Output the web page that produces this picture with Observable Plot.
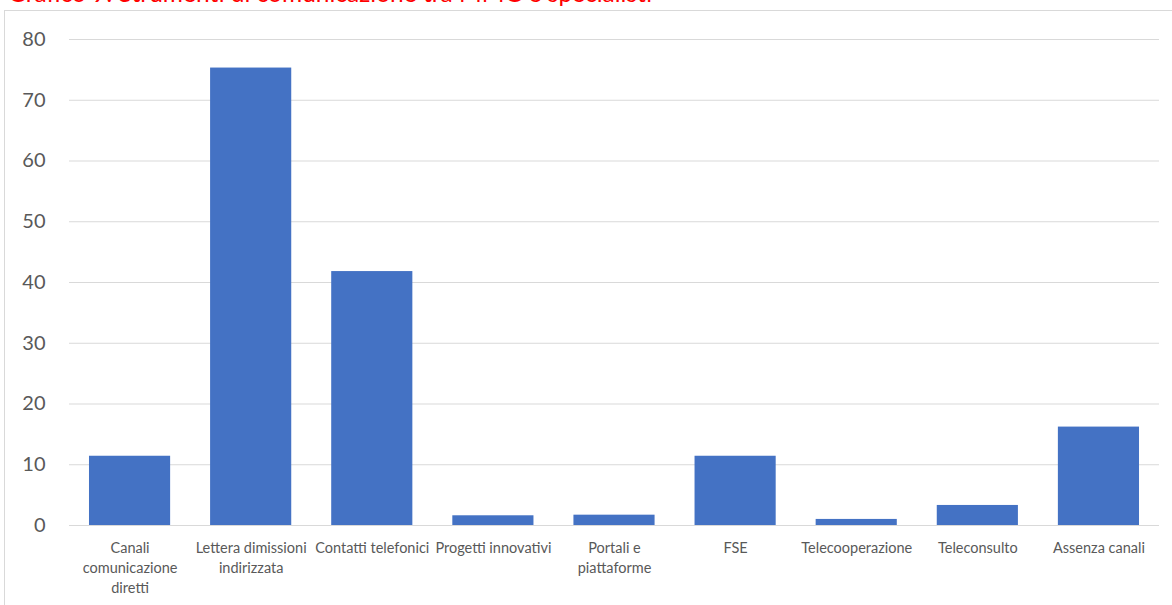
<!DOCTYPE html>
<html>
<head>
<meta charset="utf-8">
<script src="https://cdn.jsdelivr.net/npm/d3@7"></script>
<script src="https://cdn.jsdelivr.net/npm/@observablehq/plot@0.6"></script>
<style>
  html, body { margin: 0; padding: 0; background: #fff; overflow: hidden; }
  #wrap { position: relative; width: 1172px; height: 605px; overflow: hidden; }
  #title { position: absolute; left: 8px; top: -19px; font-family: Lato, "Open Sans", sans-serif; font-size: 24.5px; line-height: 24px; color: #ff0000; white-space: nowrap; }
  #frame { position: absolute; left: 4px; top: 10px; width: 1300px; height: 700px; border-left: 1px solid #d9d9d9; border-top: 1px solid #d9d9d9; }
  #chart { position: absolute; left: 0; top: 0; }
</style>
</head>
<body>
<div id="wrap">
  <div id="title">Grafico 9: Strumenti di comunicazione tra MMG e specialisti</div>
  <div id="frame"></div>
  <div id="chart"></div>
</div>
<script>
const categories = [
  "Canali comunicazione diretti",
  "Lettera dimissioni indirizzata",
  "Contatti telefonici",
  "Progetti innovativi",
  "Portali e piattaforme",
  "FSE",
  "Telecooperazione",
  "Teleconsulto",
  "Assenza canali"
];
const tickLabels = [
  "Canali\ncomunicazione\ndiretti",
  "Lettera dimissioni\nindirizzata",
  "Contatti telefonici",
  "Progetti innovativi",
  "Portali e\npiattaforme",
  "FSE",
  "Telecooperazione",
  "Teleconsulto",
  "Assenza canali"
];
const values = [11.4, 75.3, 41.8, 1.6, 1.7, 11.4, 1.0, 3.3, 16.2];
const yTicks = [0, 10, 20, 30, 40, 50, 60, 70, 80];

const data = categories.map((c, i) => ({cat: c, label: tickLabels[i], value: values[i]}));

const chart = Plot.plot({
  width: 1172,
  height: 605,
  marginLeft: 69,
  marginRight: 13,
  marginTop: 39,
  marginBottom: 80,
  style: {fontFamily: "Lato, 'Open Sans', sans-serif", background: "transparent"},
  x: {domain: categories, paddingInner: 0.33, paddingOuter: 0.165, round: false, axis: null},
  y: {domain: [0, 80], ticks: yTicks, axis: null},
  marks: [
    Plot.ruleY(yTicks, {stroke: "#d9d9d9", strokeWidth: 1, strokeOpacity: 1}),
    Plot.barY(data, {x: "cat", y: "value", fill: "#4472c4"}),
    Plot.axisY({ticks: yTicks, tickSize: 0, tickPadding: 24, fontSize: 20, fill: "#595959", label: null}),
    Plot.text(data, {x: "cat", text: "label", frameAnchor: "bottom", lineAnchor: "top", dy: 14, fontSize: 14.5, fill: "#595959", lineHeight: 1.35})
  ]
});
document.getElementById("chart").appendChild(chart);
</script>
</body>
</html>
